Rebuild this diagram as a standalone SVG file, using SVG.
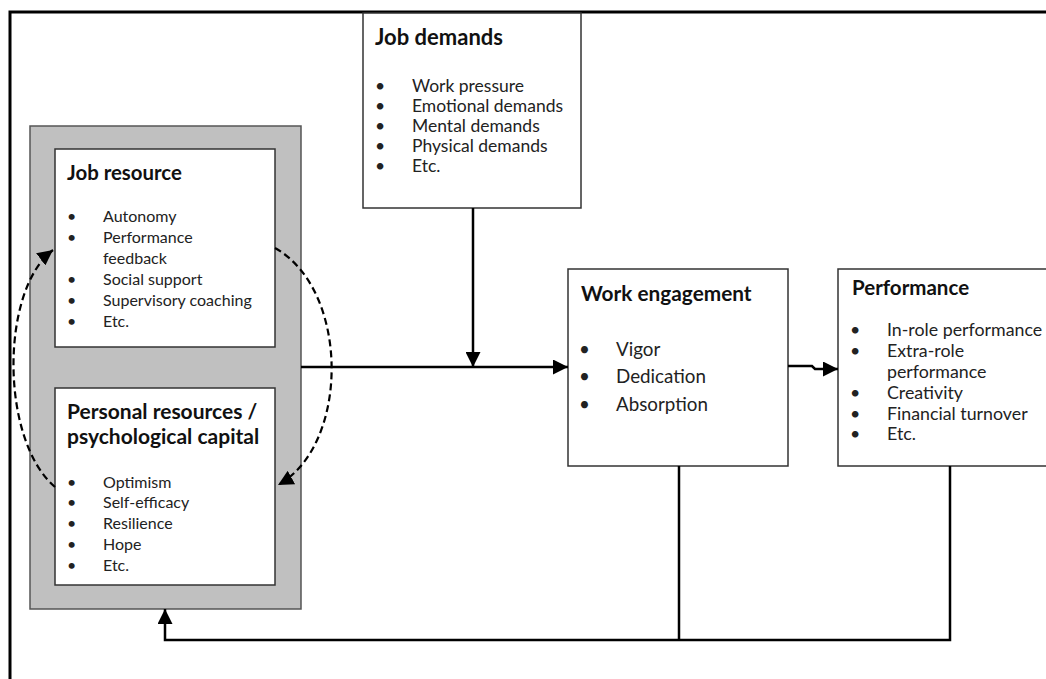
<svg xmlns="http://www.w3.org/2000/svg" width="1046" height="679" viewBox="0 0 1046 679">
  <defs>
    <style>
      .frame { fill: none; stroke: #000; stroke-width: 3; }
      .box { fill: #fff; stroke: #333; stroke-width: 1.5; }
      .group { fill: #c0c0c0; stroke: #555; stroke-width: 1.5; }
      .title { font-family: Lato, "Liberation Sans", sans-serif; font-size: 20.5px; font-weight: bold; fill: #111; }
      .item { font-family: Lato, "Liberation Sans", sans-serif; font-size: 16px; fill: #222; }
      .wire { fill: none; stroke: #000; stroke-width: 2.5; }
      .dash { fill: none; stroke: #000; stroke-width: 2.2; stroke-dasharray: 7 4; }
    </style>
    <marker id="arrow" viewBox="0 0 10 10" refX="10" refY="5" markerWidth="6" markerHeight="6" orient="auto" markerUnits="strokeWidth">
      <path d="M0,0 L10,5 L0,10 z" fill="#000"/>
    </marker>
    <marker id="arrowDash" viewBox="0 0 10 10" refX="10" refY="5" markerWidth="7" markerHeight="7" orient="auto" markerUnits="strokeWidth">
      <path d="M0,0 L10,5 L0,10 z" fill="#000"/>
    </marker>
  </defs>

  <rect width="1046" height="679" fill="#fff"/>

  <!-- page frame: top and left rules only -->
  <path class="frame" d="M10,679 V12 H1046"/>

  <!-- resources group -->
  <g id="resources">
    <rect class="group" x="30" y="126" width="271" height="483"/>
  </g>

  <g id="job-resource">
    <rect class="box" x="55" y="149" width="220" height="198"/>
    <text class="title" x="67" y="180" style="font-size:20.4px">Job resource</text>
    <g class="item">
      <text x="67" y="222">•</text><text x="103" y="222">Autonomy</text>
      <text x="67" y="243">•</text><text x="103" y="243">Performance</text>
      <text x="103" y="264">feedback</text>
      <text x="67" y="285">•</text><text x="103" y="285">Social support</text>
      <text x="67" y="306">•</text><text x="103" y="306">Supervisory coaching</text>
      <text x="67" y="327">•</text><text x="103" y="327">Etc.</text>
    </g>
  </g>

  <g id="personal-resources">
    <rect class="box" x="55" y="388" width="220" height="197"/>
    <text class="title" x="67" y="419" style="font-size:21px">Personal resources /</text>
    <text class="title" x="67" y="444" style="font-size:21px">psychological capital</text>
    <g class="item">
      <text x="67" y="488">•</text><text x="103" y="488">Optimism</text>
      <text x="67" y="508">•</text><text x="103" y="508">Self-efficacy</text>
      <text x="67" y="529">•</text><text x="103" y="529">Resilience</text>
      <text x="67" y="550">•</text><text x="103" y="550">Hope</text>
      <text x="67" y="571">•</text><text x="103" y="571">Etc.</text>
    </g>
  </g>

  <g id="job-demands">
    <rect class="box" x="363" y="13" width="218" height="195"/>
    <text class="title" x="375" y="45" style="font-size:22px">Job demands</text>
    <g class="item" style="font-size:17.5px">
      <text x="375" y="92">•</text><text x="412" y="92">Work pressure</text>
      <text x="375" y="112">•</text><text x="412" y="112">Emotional demands</text>
      <text x="375" y="132">•</text><text x="412" y="132">Mental demands</text>
      <text x="375" y="152">•</text><text x="412" y="152">Physical demands</text>
      <text x="375" y="172">•</text><text x="412" y="172">Etc.</text>
    </g>
  </g>

  <g id="work-engagement">
    <rect class="box" x="568" y="269" width="220" height="197"/>
    <text class="title" x="581" y="301" style="font-size:20.8px">Work engagement</text>
    <g class="item" style="font-size:18.8px">
      <text x="579" y="356">•</text><text x="616" y="356">Vigor</text>
      <text x="579" y="383">•</text><text x="616" y="383">Dedication</text>
      <text x="579" y="411">•</text><text x="616" y="411">Absorption</text>
    </g>
  </g>

  <g id="performance">
    <rect class="box" x="838" y="269" width="230" height="197"/>
    <text class="title" x="852" y="295">Performance</text>
    <g class="item" style="font-size:17.8px">
      <text x="850" y="336">•</text><text x="887" y="336">In-role performance</text>
      <text x="850" y="357">•</text><text x="887" y="357">Extra-role</text>
      <text x="887" y="378">performance</text>
      <text x="850" y="399">•</text><text x="887" y="399">Creativity</text>
      <text x="850" y="420">•</text><text x="887" y="420">Financial turnover</text>
      <text x="850" y="440">•</text><text x="887" y="440">Etc.</text>
    </g>
  </g>

  <g id="connectors">
    <!-- resources to engagement -->
    <path class="wire" d="M301,367 H568" marker-end="url(#arrow)"/>
    <!-- demands moderate the main path -->
    <path class="wire" d="M473,208 V367" marker-end="url(#arrow)"/>
    <!-- engagement to performance -->
    <path class="wire" d="M788,366 H812 L815,369 H838" marker-end="url(#arrow)"/>
    <!-- feedback loop back to the resources -->
    <path class="wire" d="M679,466 V640"/>
    <path class="wire" d="M950,466 V640 H165 V609" marker-end="url(#arrow)"/>
    <!-- reciprocal link between job and personal resources -->
    <path class="dash" d="M55,487 C0,440 0,290 53,250" marker-end="url(#arrowDash)"/>
    <path class="dash" d="M275,248 C350,290 350,445 278,485" marker-end="url(#arrowDash)"/>
  </g>
</svg>
